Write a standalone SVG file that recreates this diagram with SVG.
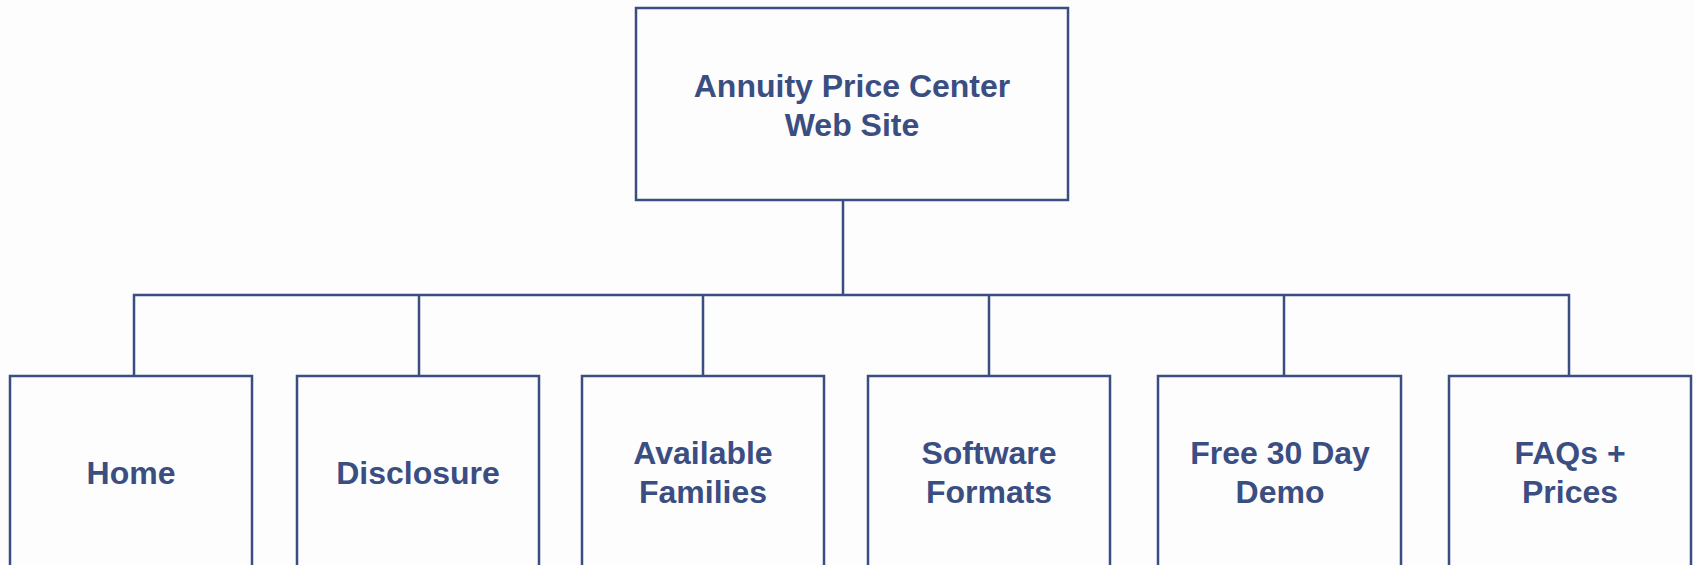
<svg xmlns="http://www.w3.org/2000/svg" width="1694" height="565" viewBox="0 0 1694 565">
<style>
.box{fill:#fdfdfe;stroke:#3a4e82;stroke-width:2.5}
.t{font-family:"Liberation Sans",Arial,sans-serif;font-weight:bold;font-size:32px;fill:#3a4e82;text-anchor:middle}
.c{fill:none;stroke:#3a4e82;stroke-width:2.5}
</style>
<rect width="1694" height="565" fill="#fdfdfe"/>
<g id="connectors">
<path class="c" d="M843 200V295M134 377V295H1569V377M419 295V377M703 295V377M989 295V377M1284 295V377"/>
</g>
<g id="root"><rect class="box" x="636" y="8" width="432" height="192"/><text class="t" x="852" y="97">Annuity Price Center</text><text class="t" x="852" y="136">Web Site</text></g>
<g id="home"><rect class="box" x="10" y="376" width="242" height="200"/><text class="t" x="131" y="484">Home</text></g>
<g id="disclosure"><rect class="box" x="297" y="376" width="242" height="200"/><text class="t" x="418" y="484">Disclosure</text></g>
<g id="families"><rect class="box" x="582" y="376" width="242" height="200"/><text class="t" x="703" y="464">Available</text><text class="t" x="703" y="503">Families</text></g>
<g id="formats"><rect class="box" x="868" y="376" width="242" height="200"/><text class="t" x="989" y="464">Software</text><text class="t" x="989" y="503">Formats</text></g>
<g id="demo"><rect class="box" x="1158" y="376" width="243" height="200"/><text class="t" x="1280" y="464">Free 30 Day</text><text class="t" x="1280" y="503">Demo</text></g>
<g id="faqs"><rect class="box" x="1449" y="376" width="242" height="200"/><text class="t" x="1570" y="464">FAQs +</text><text class="t" x="1570" y="503">Prices</text></g>
</svg>
